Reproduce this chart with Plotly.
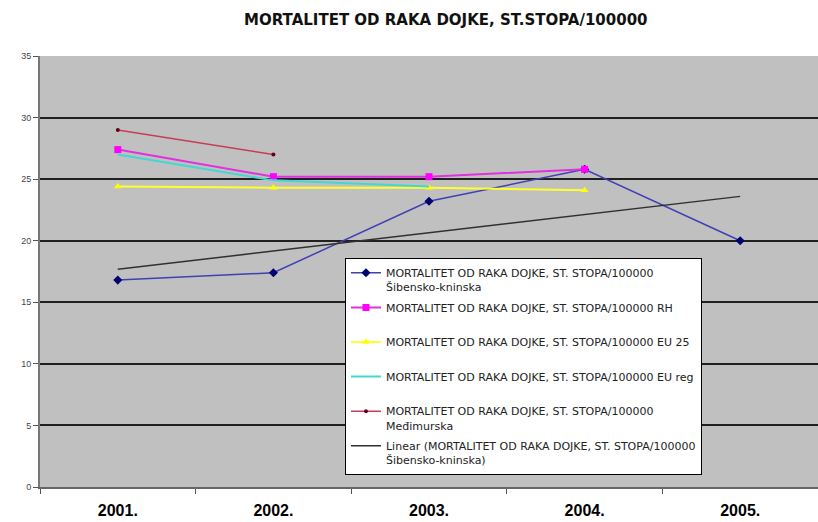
import numpy as np
import plotly.graph_objects as go

years = ["2001.", "2002.", "2003.", "2004.", "2005."]
sibensko = [16.8, 17.4, 23.2, 25.8, 20.0]
rh = [27.4, 25.2, 25.2, 25.8, None]
eu25 = [24.4, 24.3, 24.3, 24.1, None]
eureg = [27.0, 24.9, 24.4, None, None]
medjimurska = [29.0, 27.0, None, None, None]

base = "MORTALITET OD RAKA DOJKE, ST. STOPA/100000"
names = [
    base + "<br>Šibensko-kninska",
    base + " RH<br> ",
    base + " EU 25<br> ",
    base + " EU reg<br> ",
    base + "<br>Međimurska",
    "Linear (MORTALITET OD RAKA DOJKE, ST. STOPA/100000<br>Šibensko-kninska)",
]

# linear trend (least squares) of Šibensko-kninska series
xi = np.arange(1, len(sibensko) + 1)
k, n = np.polyfit(xi, sibensko, 1)
trend = k * xi + n

fig = go.Figure()
fig.add_trace(go.Scatter(x=years, y=sibensko, name=names[0], mode="lines+markers",
                         line=dict(color="#4040b4", width=1.5),
                         marker=dict(symbol="diamond", size=7, color="#000070"),
                         legendgroup="a"))
fig.add_trace(go.Scatter(x=years, y=rh, name=names[1], mode="lines+markers",
                         line=dict(color="#e030e0", width=2),
                         marker=dict(symbol="square", size=7, color="#ff00ff"),
                         legendgroup="b"))
fig.add_trace(go.Scatter(x=years, y=eu25, name=names[2], mode="lines+markers",
                         line=dict(color="#ffff30", width=2),
                         marker=dict(symbol="triangle-up", size=7, color="#ffff00"),
                         legendgroup="c"))
fig.add_trace(go.Scatter(x=years, y=eureg, name=names[3], mode="lines",
                         line=dict(color="#40d8d0", width=2),
                         legendgroup="d"))
fig.add_trace(go.Scatter(x=years, y=medjimurska, name=names[4], mode="lines+markers",
                         line=dict(color="#c83c5a", width=1.5),
                         marker=dict(symbol="circle", size=4, color="#600020"),
                         legendgroup="e"))
fig.add_trace(go.Scatter(x=years, y=trend, name=names[5], mode="lines",
                         line=dict(color="#303030", width=1.5),
                         legendgroup="f"))

fig.update_layout(
    width=818, height=522,
    margin=dict(l=40, r=0, t=56, b=35),
    paper_bgcolor="white",
    plot_bgcolor="#c0c0c0",
    font=dict(family="Liberation Sans, Arial, sans-serif", color="black"),
    title=dict(text="MORTALITET OD RAKA DOJKE, ST.STOPA/100000",
               x=0.545, xanchor="center", y=0.962, yanchor="middle",
               font=dict(size=15, color="#111", weight="bold",
                         family="DejaVu Sans, Verdana, sans-serif")),
    showlegend=True,
    legend=dict(x=0.392, y=0.531, xanchor="left", yanchor="top",
                bgcolor="white", bordercolor="black", borderwidth=1,
                font=dict(size=11, color="#222", family="DejaVu Sans, Verdana, sans-serif"),
                valign="top", traceorder="grouped", tracegroupgap=3),
    xaxis=dict(type="category", range=[-0.5, 4.5], tickson="boundaries",
               ticks="outside", ticklen=5, tickcolor="#555",
               showgrid=False, showline=True, linecolor="#666", linewidth=2,
               ticklabelstandoff=8,
               tickfont=dict(size=16, color="black", weight="bold",
                             family="Liberation Sans, Arial, sans-serif"),
               zeroline=False),
    yaxis=dict(range=[0, 35], dtick=5, ticks="outside", ticklen=5, tickcolor="#555",
               showgrid=True, gridcolor="#202020", gridwidth=1.5,
               showline=True, linecolor="#777", linewidth=2,
               tickfont=dict(size=9, color="#444"), zeroline=False),
)

fig.write_html("out.html", config={"displayModeBar": False},
               post_script="document.body.style.margin='0';")
